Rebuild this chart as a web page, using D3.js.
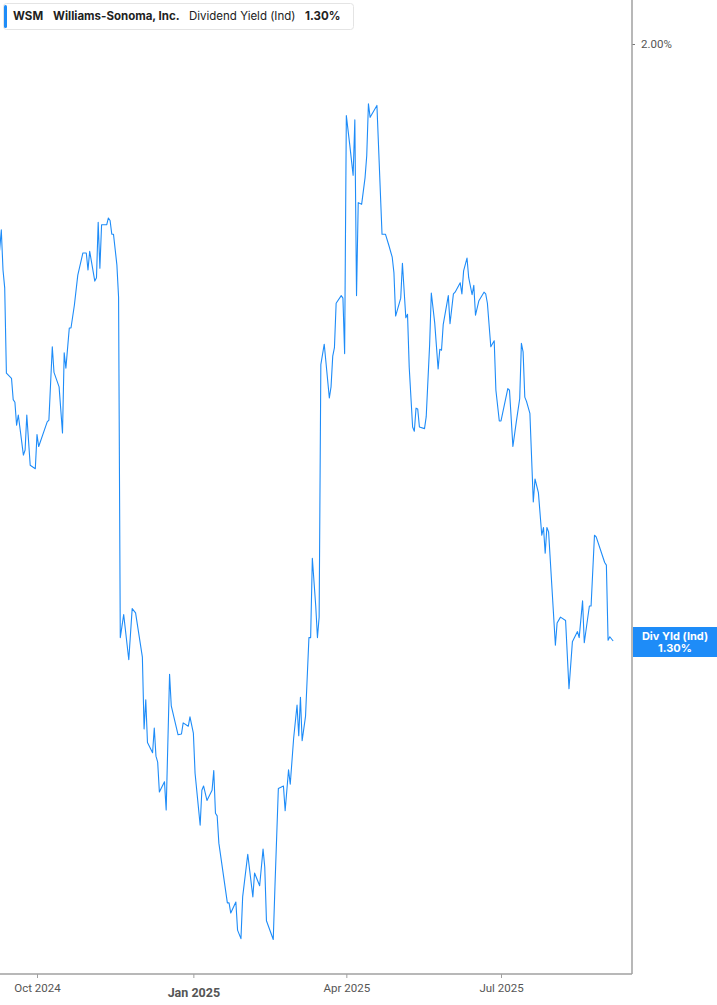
<!DOCTYPE html>
<html>
<head>
<meta charset="utf-8">
<script src="https://cdn.jsdelivr.net/npm/d3@7/dist/d3.min.js"></script>
<style>
  html, body { margin: 0; padding: 0; background: #fff; }
  svg { display: block; }
</style>
</head>
<body>
<svg id="chart" width="717" height="1005"></svg>
<script>
// ---- DATA ----
const ticker = "WSM";
const company = "Williams-Sonoma, Inc.";
const metric = "Dividend Yield (Ind)";
const metricShort = "Div Yld (Ind)";

const dates = [
  "2024-09-09","2024-09-10","2024-09-11","2024-09-12","2024-09-13","2024-09-16","2024-09-17","2024-09-18","2024-09-19","2024-09-20",
  "2024-09-23","2024-09-24","2024-09-25","2024-09-27","2024-09-30","2024-10-01","2024-10-02","2024-10-07","2024-10-08","2024-10-10",
  "2024-10-11","2024-10-14","2024-10-16","2024-10-17","2024-10-18","2024-10-20","2024-10-21","2024-10-23","2024-10-25","2024-10-28",
  "2024-10-30","2024-10-31","2024-11-01","2024-11-04","2024-11-05","2024-11-06","2024-11-07","2024-11-08","2024-11-11","2024-11-12",
  "2024-11-13","2024-11-14","2024-11-15","2024-11-17","2024-11-18","2024-11-19","2024-11-21","2024-11-24","2024-11-26","2024-11-28",
  "2024-12-02","2024-12-03","2024-12-04","2024-12-05","2024-12-08","2024-12-09","2024-12-10","2024-12-11","2024-12-12","2024-12-15",
  "2024-12-16","2024-12-18","2024-12-19","2024-12-23","2024-12-25","2024-12-26","2024-12-29","2024-12-30","2025-01-01","2025-01-02",
  "2025-01-05","2025-01-06","2025-01-07","2025-01-09","2025-01-12","2025-01-13","2025-01-14","2025-01-15","2025-01-16","2025-01-21",
  "2025-01-22","2025-01-23","2025-01-26","2025-01-27","2025-01-29","2025-01-30","2025-02-02","2025-02-05","2025-02-06","2025-02-09",
  "2025-02-11","2025-02-12","2025-02-13","2025-02-17","2025-02-18","2025-02-20","2025-02-23","2025-02-24","2025-02-26","2025-02-27",
  "2025-03-01","2025-03-03","2025-03-04","2025-03-05","2025-03-06","2025-03-08","2025-03-10","2025-03-11","2025-03-12","2025-03-14",
  "2025-03-15","2025-03-16","2025-03-17","2025-03-19","2025-03-22","2025-03-23","2025-03-24","2025-03-25","2025-03-26","2025-03-29",
  "2025-03-30","2025-03-31","2025-04-01","2025-04-03","2025-04-05","2025-04-06","2025-04-07","2025-04-08","2025-04-10","2025-04-12",
  "2025-04-13","2025-04-14","2025-04-15","2025-04-19","2025-04-22","2025-04-24","2025-04-26","2025-04-28","2025-04-29","2025-04-30",
  "2025-05-03","2025-05-04","2025-05-06","2025-05-07","2025-05-08","2025-05-10","2025-05-11","2025-05-12","2025-05-13","2025-05-14",
  "2025-05-17","2025-05-18","2025-05-20","2025-05-21","2025-05-23","2025-05-25","2025-05-26","2025-05-27","2025-05-28","2025-05-31",
  "2025-06-01","2025-06-03","2025-06-04","2025-06-07","2025-06-08","2025-06-09","2025-06-11","2025-06-12","2025-06-14","2025-06-15",
  "2025-06-16","2025-06-18","2025-06-21","2025-06-22","2025-06-23","2025-06-25","2025-06-27","2025-06-28","2025-06-30","2025-07-01",
  "2025-07-05","2025-07-06","2025-07-08","2025-07-10","2025-07-12","2025-07-13","2025-07-14","2025-07-15","2025-07-16","2025-07-18",
  "2025-07-20","2025-07-21","2025-07-23","2025-07-25","2025-07-26","2025-07-27","2025-07-28","2025-07-29","2025-08-02","2025-08-03",
  "2025-08-05","2025-08-08","2025-08-10","2025-08-12","2025-08-15","2025-08-16","2025-08-18","2025-08-19","2025-08-22","2025-08-23",
  "2025-08-25","2025-08-26","2025-08-31","2025-09-01","2025-09-02","2025-09-03","2025-09-05"
];

const yields = [
  1.758,1.782,1.735,1.714,1.614,1.608,1.583,1.580,1.553,1.565,
  1.518,1.524,1.565,1.506,1.502,1.542,1.528,1.557,1.559,1.645,
  1.615,1.598,1.544,1.638,1.620,1.667,1.667,1.694,1.729,1.755,
  1.755,1.735,1.757,1.722,1.726,1.791,1.737,1.788,1.788,1.796,
  1.793,1.777,1.777,1.741,1.703,1.304,1.331,1.278,1.338,1.333,
  1.281,1.197,1.231,1.181,1.169,1.198,1.165,1.158,1.123,1.135,
  1.102,1.261,1.224,1.190,1.191,1.204,1.200,1.211,1.192,1.145,
  1.084,1.125,1.130,1.113,1.125,1.148,1.098,1.095,1.063,0.993,
  0.993,0.981,0.994,0.961,0.951,1.000,1.050,1.000,1.028,1.013,
  1.056,1.035,0.972,0.950,1.012,1.127,1.130,1.101,1.149,1.132,
  1.186,1.225,1.189,1.234,1.183,1.212,1.304,1.304,1.397,1.341,
  1.304,1.328,1.624,1.648,1.585,1.598,1.634,1.644,1.696,1.705,
  1.702,1.637,1.916,1.882,1.846,1.911,1.705,1.814,1.812,1.843,
  1.869,1.930,1.914,1.928,1.777,1.777,1.764,1.750,1.732,1.681,
  1.702,1.743,1.679,1.683,1.621,1.551,1.546,1.573,1.572,1.551,
  1.549,1.563,1.647,1.708,1.673,1.619,1.642,1.641,1.671,1.705,
  1.672,1.707,1.709,1.720,1.707,1.734,1.749,1.726,1.706,1.717,
  1.682,1.699,1.709,1.707,1.696,1.645,1.652,1.594,1.558,1.558,
  1.596,1.594,1.528,1.557,1.584,1.649,1.639,1.586,1.581,1.567,
  1.463,1.490,1.474,1.424,1.433,1.403,1.433,1.428,1.295,1.321,
  1.328,1.324,1.244,1.299,1.311,1.304,1.347,1.298,1.341,1.341,
  1.424,1.422,1.392,1.389,1.301,1.305,1.300
];

const xTickDates = ["2024-10-01","2025-01-01","2025-04-01","2025-07-01"];
const xTickLabels = ["Oct 2024","Jan 2025","Apr 2025","Jul 2025"];
const yTickValues = [2.00];
const yTickLabels = ["2.00%"];
const lastValueLabel = "1.30%";

// ---- CHART ----
const parse = d3.timeParse("%Y-%m-%d");
const series = dates.map((d, i) => ({ date: parse(d), value: yields[i] }));

const W = 717, H = 1005;
const plotRight = 632, plotBottom = 974;
const svg = d3.select("#chart");
const blue = "#1e8cf8";
const axisColor = "#a0a0a0";
const textColor = "#555";

const x = d3.scaleTime()
  .domain([parse("2024-10-01"), parse("2025-07-01")])
  .range([37, 501]);
const y = d3.scaleLinear()
  .domain([1.30, 2.00])
  .range([641, 44]);

// line
const line = d3.line().x(d => x(d.date)).y(d => y(d.value));
svg.append("path")
  .datum(series)
  .attr("fill", "none")
  .attr("stroke", blue)
  .attr("stroke-width", 1.1)
  .attr("stroke-linejoin", "round")
  .attr("d", line);

// bottom axis
const xAxis = d3.axisBottom(x)
  .tickValues(xTickDates.map(parse))
  .tickSize(4)
  .tickSizeOuter(0)
  .tickFormat((d, i) => xTickLabels[i]);
const gx = svg.append("g")
  .attr("transform", `translate(0,${plotBottom})`)
  .call(xAxis);
gx.select(".domain").remove();
gx.selectAll(".tick line").attr("stroke", axisColor).attr("stroke-width", 1);
gx.selectAll(".tick text")
  .attr("fill", textColor)
  .attr("font-family", "Roboto, 'Liberation Sans', sans-serif")
  .attr("font-size", (d, i) => xTickLabels[i].startsWith("Jan") ? 12.5 : 11.5)
  .attr("font-weight", (d, i) => xTickLabels[i].startsWith("Jan") ? 700 : 400)
  .attr("dy", (d, i) => xTickLabels[i].startsWith("Jan") ? "1.25em" : "0.95em");
svg.append("line")
  .attr("x1", 0).attr("x2", plotRight)
  .attr("y1", plotBottom).attr("y2", plotBottom)
  .attr("stroke", axisColor).attr("stroke-width", 1.5);

// right axis
const yAxis = d3.axisRight(y)
  .tickValues(yTickValues)
  .tickSize(3)
  .tickSizeOuter(0)
  .tickFormat((d, i) => yTickLabels[i]);
const gy = svg.append("g")
  .attr("transform", `translate(${plotRight},0)`)
  .call(yAxis);
gy.select(".domain").remove();
gy.selectAll(".tick line").attr("stroke", "#777").attr("stroke-width", 1);
gy.selectAll(".tick text")
  .attr("fill", textColor)
  .attr("x", 9)
  .attr("font-family", "Roboto, 'Liberation Sans', sans-serif")
  .attr("font-size", 11.5);
svg.append("line")
  .attr("x1", plotRight).attr("x2", plotRight)
  .attr("y1", 0).attr("y2", plotBottom)
  .attr("stroke", axisColor).attr("stroke-width", 1.5);

// last value tag
const last = series[series.length - 1];
const tagY = y(last.value);
const tag = svg.append("g");
tag.append("rect")
  .attr("x", plotRight + 1).attr("y", tagY - 14)
  .attr("width", W - plotRight - 1).attr("height", 30)
  .attr("fill", blue);
tag.append("text")
  .attr("x", (plotRight + 1 + W) / 2).attr("y", tagY - 4)
  .attr("text-anchor", "middle").attr("dominant-baseline", "middle")
  .attr("fill", "#fff").attr("font-weight", 700)
  .attr("font-family", "Inter, 'Liberation Sans', sans-serif")
  .attr("font-size", 11)
  .text(metricShort);
tag.append("text")
  .attr("x", (plotRight + 1 + W) / 2).attr("y", tagY + 8)
  .attr("text-anchor", "middle").attr("dominant-baseline", "middle")
  .attr("fill", "#fff").attr("font-weight", 700)
  .attr("font-family", "Inter, 'Liberation Sans', sans-serif")
  .attr("font-size", 11)
  .text(lastValueLabel);

// legend
const lg = svg.append("g");
lg.append("rect")
  .attr("x", 3.5).attr("y", 3.5).attr("width", 350).attr("height", 26)
  .attr("rx", 3).attr("fill", "#fff")
  .attr("stroke", "#e4e4e4").attr("stroke-width", 1);
lg.append("rect")
  .attr("x", 4).attr("y", 5).attr("width", 3).attr("height", 23)
  .attr("rx", 1.5).attr("fill", blue);
const legendItems = [
  { text: ticker, x: 13, w: 700 },
  { text: company, x: 53, w: 700 },
  { text: metric, x: 189, w: 400 },
  { text: lastValueLabel, x: 305, w: 700 }
];
lg.selectAll("text.leg")
  .data(legendItems)
  .join("text")
  .attr("class", "leg")
  .attr("x", d => d.x).attr("y", 17)
  .attr("dominant-baseline", "middle")
  .attr("font-family", "Inter, 'Liberation Sans', sans-serif")
  .attr("font-size", 11.5)
  .attr("font-weight", d => d.w)
  .attr("fill", "#222")
  .text(d => d.text);
</script>
</body>
</html>
